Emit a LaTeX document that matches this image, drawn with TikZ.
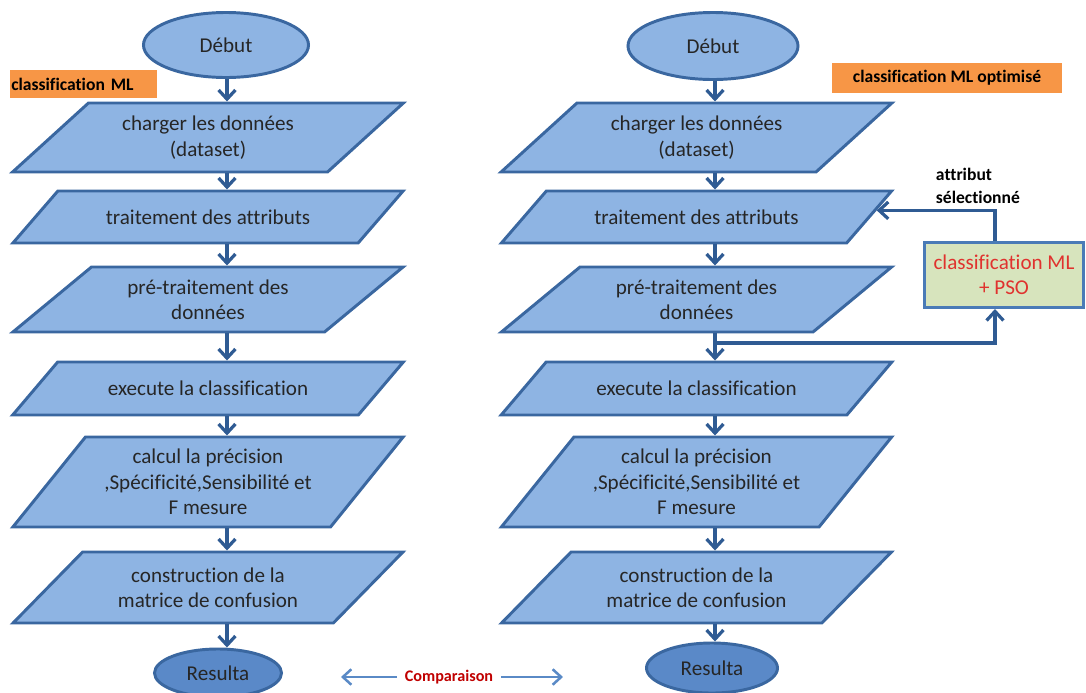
\documentclass[tikz,border=0pt]{standalone}
\usepackage{fontspec}
\setmainfont{Carlito}[Ligatures=NoCommon]
\usepackage{tikz}
\usetikzlibrary{shapes.geometric}
\usetikzlibrary{arrows.meta}
\usetikzlibrary{calc}

\definecolor{boxfill}{HTML}{8EB4E3}
\definecolor{boxline}{HTML}{3A67A0}
\definecolor{flow}{HTML}{2F5B93}
\definecolor{endfill}{HTML}{5A89C8}
\definecolor{tag}{HTML}{F79646}
\definecolor{psofill}{HTML}{D7E4BD}
\definecolor{psoline}{HTML}{4A7BB7}
\definecolor{psored}{HTML}{E0322E}
\definecolor{cmpred}{HTML}{C00000}
\definecolor{cmpblue}{HTML}{5A8AC6}

\tikzset{
	txt/.style={font=\fontsize{15}{18}\selectfont,text=black!85},
	io/.style={txt,shape=trapezium,draw=boxline,fill=boxfill,line width=2.1pt,
		trapezium stretches=true,align=center,inner sep=2pt,
		minimum width=9.775cm,minimum height=#1cm,
		trapezium left angle={atan(#1/2)},trapezium right angle={180-atan(#1/2)}},
	term/.style={txt,shape=ellipse,draw=boxline,line width=2.1pt},
	flowarrow/.style={draw=flow,line width=2.3pt,-{Straight Barb[length=6.5pt,width=12pt]}},
	cmparrow/.style={draw=cmpblue,line width=1.8pt,-{Straight Barb[length=6pt,width=11pt]}},
	tagbox/.style={fill=tag,font=\fontsize{12.5}{15}\selectfont\bfseries}
}

\begin{document}
\begin{tikzpicture}[x=0.025cm,y=-0.025cm]
	\useasboundingbox (0,0) rectangle (1086,692);
	\coordinate (colL) at (227,0);
	\coordinate (colR) at (715,0);
	\coordinate (fbX) at (995,0);
	\coordinate (branch) at (715,343);

	\draw (226,45) node (debutL) [term,fill=boxfill,minimum width=4.125cm,minimum height=1.625cm] {Début};
	\draw (208,137.5) node (chargerL) [io=1.725] {charger les données\\(dataset)};
	\draw (208,217) node (traitL) [io=1.3] {traitement des attributs};
	\draw (208,299.5) node (preL) [io=1.625] {pré-traitement des\\données};
	\draw (208,388.5) node (execL) [io=1.325] {execute la classification};
	\draw (208,482) node (calcL) [io=2.25] {calcul la précision\\,Spécificité,Sensibilité et\\F mesure};
	\draw (208,587.5) node (constL) [io=1.775] {construction de la\\matrice de confusion};
	\draw (218,673) node (resL) [term,fill=endfill,minimum width=3.175cm,minimum height=1.2cm] {Resulta};

	\draw (713,46) node (debutR) [term,fill=boxfill,minimum width=4.25cm,minimum height=1.675cm] {Début};
	\draw (696.5,137.5) node (chargerR) [io=1.725] {charger les données\\(dataset)};
	\draw (696.5,217) node (traitR) [io=1.3] {traitement des attributs};
	\draw (696.5,299.5) node (preR) [io=1.625] {pré-traitement des\\données};
	\draw (696.5,388.5) node (execR) [io=1.325] {execute la classification};
	\draw (696.5,482) node (calcR) [io=2.25] {calcul la précision\\,Spécificité,Sensibilité et\\F mesure};
	\draw (696.5,587.5) node (constR) [io=1.775] {construction de la\\matrice de confusion};
	\draw (712,668) node (resR) [term,fill=endfill,minimum width=3.275cm,minimum height=1.25cm] {Resulta};

	\draw (10,84) node (tagL) [tagbox,anchor=west,text width=3.625cm,align=left,inner xsep=0.025cm,minimum height=0.7cm] {classification ML};
	\draw (947,78) node (tagR) [tagbox,minimum width=5.75cm,minimum height=0.75cm] {classification ML optimisé};

	\draw (1004,275) node (pso) [txt,draw=psoline,fill=psofill,line width=2.1pt,text=psored,align=center,minimum width=3.975cm,minimum height=1.625cm] {classification ML\\+ PSO};
	\draw (931,186) node (attrLbl) [anchor=west,align=left,font=\fontsize{12.5}{16}\selectfont\bfseries] {attribut\\sélectionné};
	\draw (449,677) node (cmp) [text=cmpred,font=\fontsize{11.5}{14}\selectfont\bfseries] {Comparaison};

	\foreach \a/\b in {debutL/chargerL,chargerL/traitL,traitL/preL,preL/execL,execL/calcL,calcL/constL,constL/resL} {
		\draw [flowarrow] (\a.south -| colL) -- (\b.north -| colL);
	}
	\foreach \a/\b in {debutR/chargerR,chargerR/traitR,traitR/preR,preR/execR,execR/calcR,calcR/constR,constR/resR} {
		\draw [flowarrow] (\a.south -| colR) -- (\b.north -| colR);
	}
	\draw [flowarrow] (pso.north -| fbX) |- ($(traitR.top right corner)!0.38!(traitR.bottom right corner)$);
	\draw [flowarrow] (branch) -| (pso.south -| fbX);
	\draw [cmparrow,shorten >=1.45cm] ([xshift=-2pt]cmp.west) -- (cmp.west -| resL.east);
	\draw [cmparrow,shorten >=2.05cm] ([xshift=2pt]cmp.east) -- (cmp.east -| resR.west);
\end{tikzpicture}
\end{document}
